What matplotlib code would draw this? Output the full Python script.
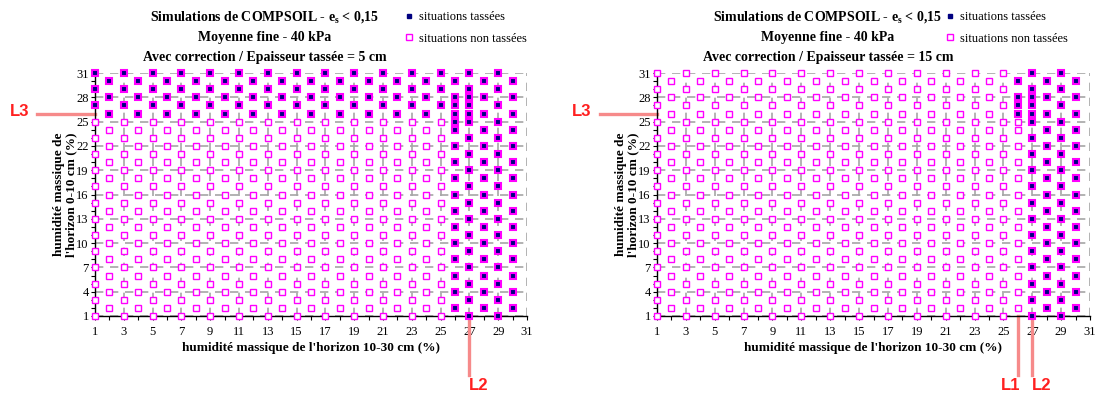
import matplotlib
matplotlib.use("Agg")
import matplotlib.pyplot as plt
from matplotlib.lines import Line2D
from matplotlib.transforms import blended_transform_factory

# ---------------- data ----------------
x_columns = [1, 2, 3, 4, 5, 6, 7, 8, 9, 10, 11, 12, 13, 14, 15,
             16, 17, 18, 19, 20, 21, 22, 23, 24, 25, 26, 27, 28, 29, 30]
y_for_odd_x = [1, 3, 5, 7, 9, 11, 13, 15, 17, 19, 21, 23, 25, 27, 29, 31]
y_for_even_x = [2, 4, 6, 8, 10, 12, 14, 16, 18, 20, 22, 24, 26, 28, 30]
# additional simulated points near the thresholds
extra_x = [26, 26, 27, 27]
extra_y = [25, 27, 26, 28]

# lowest y (0-10 cm humidity) from which a column is "tassée" (99 = none)
left_first_tassee_y = [26, 26, 26, 26, 26, 26, 26, 26, 26, 26,
                       26, 26, 26, 26, 26, 26, 26, 26, 26, 26,
                       26, 26, 26, 26, 26, 1, 1, 1, 1, 1]
right_first_tassee_y = [99, 99, 99, 99, 99, 99, 99, 99, 99, 99,
                        99, 99, 99, 99, 99, 99, 99, 99, 99, 99,
                        99, 99, 99, 99, 99, 26, 1, 1, 1, 1]

x_tick_labels = [1, 3, 5, 7, 9, 11, 13, 15, 17, 19, 21, 23, 25, 27, 29, 31]
y_tick_labels = [1, 4, 7, 10, 13, 16, 19, 22, 25, 28, 31]

titles = [
    ["Simulations de COMPSOIL - e$_\\mathregular{s}$ < 0,15", "Moyenne fine - 40 kPa",
     "Avec correction / Epaisseur tassée = 5 cm"],
    ["Simulations de COMPSOIL - e$_\\mathregular{s}$ < 0,15", "Moyenne fine - 40 kPa",
     "Avec correction / Epaisseur tassée = 15 cm"],
]
x_label = "humidité massique de l'horizon 10-30 cm (%)"
y_label = "humidité massique de\nl'horizon 0-10 cm (%)"
legend_labels = ["situations tassées", "situations non tassées"]

L3_y = 26
left_vlines = [(27, "L2", 'left')]
right_vlines = [(26, "L1", 'right'), (27, "L2", 'left')]

# ---------------- build point sets ----------------
def points():
    xs, ys = [], []
    for x in x_columns:
        col = y_for_odd_x if x % 2 == 1 else y_for_even_x
        for y in col:
            xs.append(x); ys.append(y)
    for x, y in zip(extra_x, extra_y):
        xs.append(x); ys.append(y)
    return xs, ys

all_x, all_y = points()

plt.rcParams['font.family'] = ['Liberation Serif', 'DejaVu Serif']
plt.rcParams['mathtext.fontset'] = 'custom'
plt.rcParams['mathtext.rm'] = 'Liberation Serif'
plt.rcParams['mathtext.it'] = 'Liberation Serif:italic'
plt.rcParams['mathtext.bf'] = 'Liberation Serif:bold'

fig = plt.figure(figsize=(10.96, 3.97), dpi=100)

MAG = '#ff00ff'
NAVY = '#000080'
RED = '#ff2020'
LINE_RED = '#f68a8a'

panels = [
    dict(rect=[95/1096, 1-316/397, 432/1096, 243/397], first=left_first_tassee_y,
         vlines=left_vlines, title=titles[0], title_cx=265/1096, leg_x=403/1096,
         L3_x=10/1096, L3_line_x0=37),
    dict(rect=[657/1096, 1-316/397, 433/1096, 243/397], first=right_first_tassee_y,
         vlines=right_vlines, title=titles[1], title_cx=828/1096, leg_x=944/1096,
         L3_x=572/1096, L3_line_x0=600),
]

for p in panels:
    ax = fig.add_axes(p['rect'])
    first = p['first']
    tx, ty, nx, ny = [], [], [], []
    for x, y in zip(all_x, all_y):
        if y >= first[x_columns.index(x)]:
            tx.append(x); ty.append(y)
        else:
            nx.append(x); ny.append(y)
    ax.plot(nx, ny, linestyle='none', marker='s', markersize=4.2,
            markerfacecolor='white', markeredgecolor=MAG, markeredgewidth=1.0,
            clip_on=False, zorder=3)
    ax.plot(tx, ty, linestyle='none', marker='s', markersize=4.4,
            markerfacecolor=NAVY, markeredgecolor=MAG, markeredgewidth=1.5,
            clip_on=False, zorder=3)

    ax.set_xlim(1, 31)
    ax.set_ylim(1, 31)
    ax.set_xticks(x_tick_labels)
    ax.set_yticks(y_tick_labels)
    ax.set_xticks(range(1, 32), minor=True)
    ax.set_yticks(range(1, 32), minor=True)
    ax.tick_params(which='both', direction='out', length=3, width=0.8,
                   labelsize=9)
    ax.tick_params(axis='x', which='both', pad=4)
    ax.tick_params(axis='y', which='both', pad=1.5)
    ax.grid(True, which='major', color='#a6a6a6', linestyle=(0, (5, 4)),
            linewidth=1.2, zorder=0)
    ax.set_axisbelow(True)
    for s in ['top', 'right']:
        ax.spines[s].set_visible(False)
    for s in ['left', 'bottom']:
        ax.spines[s].set_linewidth(1.0)
        ax.spines[s].set_zorder(2)

    ax.set_xlabel(x_label, fontsize=9.5, fontweight='bold', labelpad=3)
    ax.set_ylabel(y_label, fontsize=9.5, fontweight='bold', labelpad=-1,
                  linespacing=1.05)

    # title (three lines)
    for i, t in enumerate(p['title']):
        fig.text(p['title_cx'], 1 - (17 + 20.5 * i) / 397, t, ha='center',
                 va='center', fontsize=10, fontweight='bold')

    # legend
    handles = [
        Line2D([], [], linestyle='none', marker='s', markersize=2.8,
               markerfacecolor=NAVY, markeredgecolor=NAVY),
        Line2D([], [], linestyle='none', marker='s', markersize=4.2,
               markerfacecolor='white', markeredgecolor=MAG, markeredgewidth=1.0),
    ]
    fig.legend(handles, legend_labels, loc='upper left',
               bbox_to_anchor=(p['leg_x'], 1.0 - 9/397), frameon=False,
               fontsize=9, handlelength=0.6, handletextpad=0.5,
               labelspacing=0.72, borderpad=0.2, borderaxespad=0.0)

    # L3 horizontal marker
    trans_h = blended_transform_factory(ax.transAxes, ax.transData)
    x0 = (p['L3_line_x0'] - p['rect'][0] * 1096) / (p['rect'][2] * 1096)
    ax.plot([x0, 0], [L3_y, L3_y], color=LINE_RED, linewidth=2.4,
            transform=trans_h, clip_on=False, zorder=1)
    fig.text(p['L3_x'], 1 - 112/397, "L3", color=RED, fontsize=12,
             fontweight='bold', family='Liberation Sans', ha='left', va='center')

    # vertical markers
    trans_v = blended_transform_factory(ax.transData, ax.transAxes)
    for xv, lab, ha in p['vlines']:
        ax.plot([xv, xv], [0, -59/243], color=LINE_RED, linewidth=2.4,
                transform=trans_v, clip_on=False, zorder=1)
        ax.text(xv + (0.15 if ha == 'right' else -0.05), -70/243, lab,
                color=RED, fontsize=12, fontweight='bold',
                family='Liberation Sans', ha=ha, va='center',
                transform=trans_v)

fig.savefig("out.png", dpi=100)
